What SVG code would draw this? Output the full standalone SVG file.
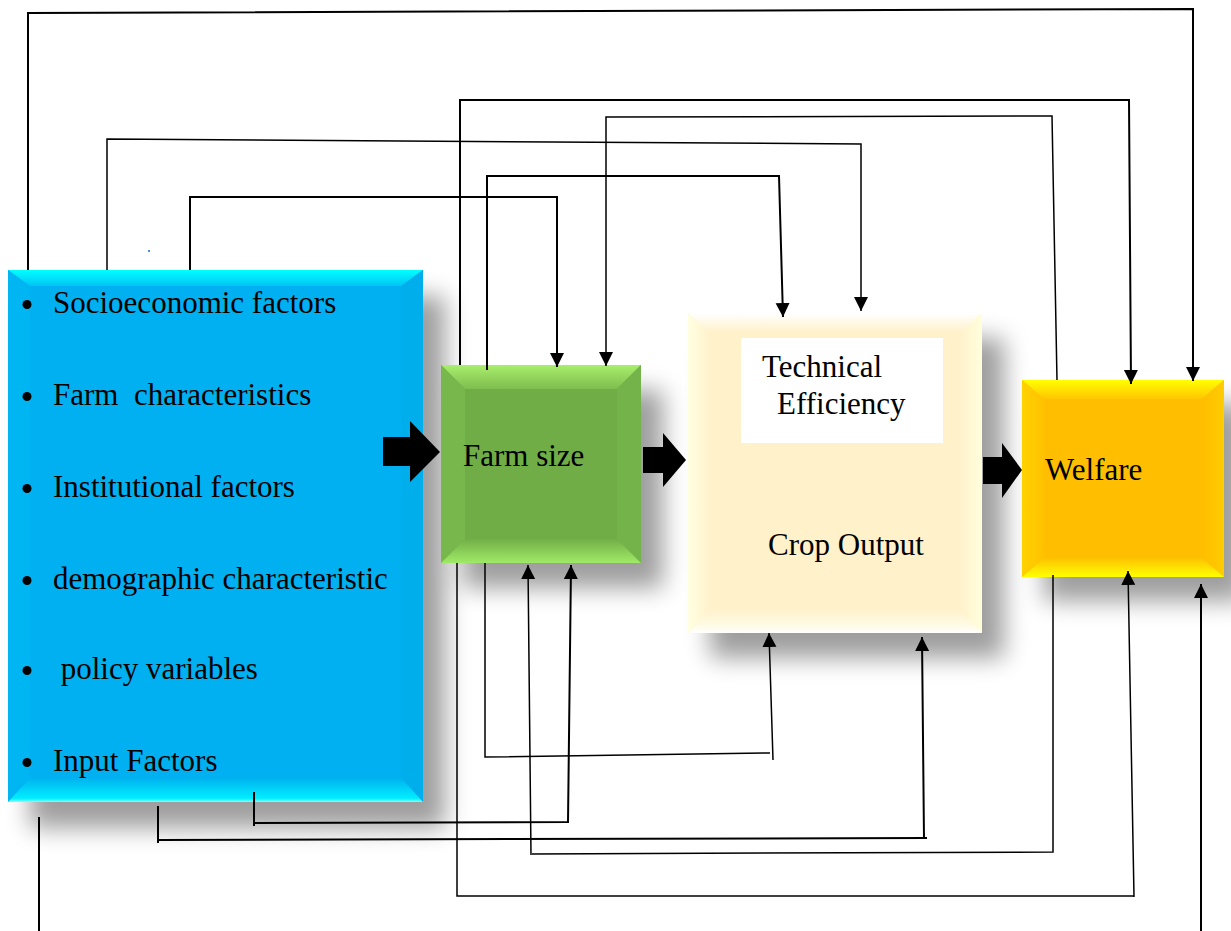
<svg xmlns="http://www.w3.org/2000/svg" width="1231" height="931" viewBox="0 0 1231 931">
<defs>
  <filter id="blur" x="-30%" y="-30%" width="160%" height="160%">
    <feGaussianBlur stdDeviation="12"/>
  </filter>
  <marker id="ah" viewBox="0 0 14 16" refX="14" refY="8" markerWidth="14" markerHeight="16" markerUnits="userSpaceOnUse" orient="auto">
    <path d="M0,1 L14,8 L0,15 z" fill="#000"/>
  </marker>
  <linearGradient id="bTop" x1="0" y1="0" x2="0" y2="1"><stop offset="0" stop-color="#00FFFF"/><stop offset="1" stop-color="#00C4F4"/></linearGradient>
  <linearGradient id="bBot" x1="0" y1="0" x2="0" y2="1"><stop offset="0" stop-color="#00B2F0"/><stop offset="0.85" stop-color="#00EEFF"/><stop offset="1" stop-color="#7FFFFF"/></linearGradient>
  <linearGradient id="gTop" x1="0" y1="0" x2="0" y2="1"><stop offset="0" stop-color="#A9EE6C"/><stop offset="1" stop-color="#7EBD4F"/></linearGradient>
  <linearGradient id="gBot" x1="0" y1="0" x2="0" y2="1"><stop offset="0" stop-color="#72AF48"/><stop offset="1" stop-color="#A0EA66"/></linearGradient>
  <linearGradient id="cTop" x1="0" y1="0" x2="0" y2="1"><stop offset="0" stop-color="#FFFFFF"/><stop offset="1" stop-color="#FFF0C6"/></linearGradient>
  <linearGradient id="cBot" x1="0" y1="0" x2="0" y2="1"><stop offset="0" stop-color="#FFF2CC"/><stop offset="0.7" stop-color="#FFFBE6"/><stop offset="1" stop-color="#FFFFFF"/></linearGradient>
  <linearGradient id="cLeft" x1="0" y1="0" x2="1" y2="0"><stop offset="0" stop-color="#FFFFE2"/><stop offset="1" stop-color="#FFF2CC"/></linearGradient>
  <linearGradient id="cRight" x1="0" y1="0" x2="1" y2="0"><stop offset="0" stop-color="#FFF2CC"/><stop offset="1" stop-color="#FFFFDC"/></linearGradient>
  <linearGradient id="yTop" x1="0" y1="0" x2="0" y2="1"><stop offset="0" stop-color="#FFFF00"/><stop offset="1" stop-color="#FFC600"/></linearGradient>
  <linearGradient id="yBot" x1="0" y1="0" x2="0" y2="1"><stop offset="0" stop-color="#FFC200"/><stop offset="1" stop-color="#FFFF00"/></linearGradient>
  <linearGradient id="yLeft" x1="0" y1="0" x2="1" y2="0"><stop offset="0" stop-color="#FFD200"/><stop offset="1" stop-color="#FFC200"/></linearGradient>
  <linearGradient id="yRight" x1="0" y1="0" x2="1" y2="0"><stop offset="0" stop-color="#FFBE00"/><stop offset="1" stop-color="#FFCC00"/></linearGradient>
</defs>
<style>
  .shadow { fill: #000; opacity: 0.38; }
  .lbl { font-family: "Liberation Serif", "Times New Roman", serif; font-size: 31px; fill: #000; white-space: pre; }
  .conn { fill: none; stroke: #000; stroke-width: 2; stroke-linejoin: miter; }
  .thin { stroke-width: 1.5; }
  .big { fill: #000; }
</style>

<rect width="1231" height="931" fill="#fff"/>

<!-- Blue factors box -->
<g id="factors">
  <rect class="shadow" x="30" y="296" width="415" height="532" filter="url(#blur)"/>
  <rect x="8" y="270" width="415" height="532" fill="#00B0F0"/>
  <polygon points="8,270 423,270 401,286 30,286" fill="url(#bTop)"/>
  <polygon points="8,270 30,286 30,778 8,802" fill="#00B6F2"/>
  <polygon points="423,270 401,286 401,778 423,802" fill="#00AEEC"/>
  <polygon points="8,802 423,802 401,778 30,778" fill="url(#bBot)"/>
  <circle cx="27" cy="304.5" r="4.5"/>
  <text class="lbl" x="53" y="313">Socioeconomic factors</text>
  <circle cx="27" cy="396.5" r="4.5"/>
  <text class="lbl" x="53" y="405">Farm  characteristics</text>
  <circle cx="27" cy="488.5" r="4.5"/>
  <text class="lbl" x="53" y="497">Institutional factors</text>
  <circle cx="27" cy="580.5" r="4.5"/>
  <text class="lbl" x="53" y="589">demographic characteristic</text>
  <circle cx="27" cy="670.5" r="4.5"/>
  <text class="lbl" x="53" y="679"> policy variables</text>
  <circle cx="27" cy="762.5" r="4.5"/>
  <text class="lbl" x="53" y="771">Input Factors</text>
</g>

<!-- Farm size box -->
<g id="farmsize">
  <rect class="shadow" x="463" y="390" width="200" height="198" filter="url(#blur)"/>
  <rect x="441" y="365" width="200" height="198" fill="#70AD47"/>
  <polygon points="441,365 641,365 617,389 465,389" fill="url(#gTop)"/>
  <polygon points="441,365 465,389 465,539 441,563" fill="#78B74C"/>
  <polygon points="641,365 617,389 617,539 641,563" fill="#74B24A"/>
  <polygon points="441,563 641,563 617,539 465,539" fill="url(#gBot)"/>
  <text class="lbl" x="463" y="466">Farm size</text>
</g>

<!-- Crop output box -->
<g id="cropoutput">
  <rect class="shadow" x="710" y="338" width="294" height="320" filter="url(#blur)"/>
  <rect x="688" y="313" width="294" height="320" fill="#FFF1C9"/>
  <polygon points="688,313 982,313 960,334 710,334" fill="url(#cTop)"/>
  <polygon points="688,313 710,334 710,609 688,633" fill="url(#cLeft)"/>
  <polygon points="982,313 960,334 960,609 982,633" fill="url(#cRight)"/>
  <polygon points="688,633 982,633 960,609 710,609" fill="url(#cBot)"/>
  <rect x="741" y="338" width="202" height="105" fill="#FFFFFF"/>
  <text class="lbl" x="762" y="377">Technical</text>
  <text class="lbl" x="777" y="414">Efficiency</text>
  <text class="lbl" x="768" y="555">Crop Output</text>
</g>

<!-- Welfare box -->
<g id="welfare">
  <rect class="shadow" x="1044" y="404" width="202" height="197" filter="url(#blur)"/>
  <rect x="1022" y="380" width="202" height="197" fill="#FFBF00"/>
  <polygon points="1022,380 1224,380 1202,399 1044,399" fill="url(#yTop)"/>
  <polygon points="1022,380 1044,399 1044,558 1022,577" fill="url(#yLeft)"/>
  <polygon points="1224,380 1202,399 1202,558 1224,577" fill="url(#yRight)"/>
  <polygon points="1022,577 1224,577 1202,558 1044,558" fill="url(#yBot)"/>
  <text class="lbl" x="1045" y="480">Welfare</text>
</g>

<!-- Block arrows -->
<g id="flow-arrows">
  <polygon class="big" points="383,437 410,437 410,421 440,452 410,482 410,466 383,466"/>
  <polygon class="big" points="643,447 663,447 663,433 686,460 663,487 663,473 643,473"/>
  <polygon class="big" points="983,457 1002,457 1002,443 1022,470 1002,498 1002,484 983,484"/>
</g>

<!-- Connectors -->
<g id="connectors">
  <path class="conn" d="M28,270 L28,13 L1193,9 L1193,381" marker-end="url(#ah)"/>
  <path class="conn thin" d="M107,270 L107,139 L861,144 L861,311" marker-end="url(#ah)"/>
  <path class="conn" d="M190,270 L190,197 L557,197 L557,367" marker-end="url(#ah)"/>
  <path class="conn" d="M460,365 L460,100 L1129,100 L1131,384" marker-end="url(#ah)"/>
  <path class="conn" d="M487,370 L487,176 L779,176 L783,317" marker-end="url(#ah)"/>
  <path class="conn thin" d="M1057,380 L1052,116 L606,117 L606,366" marker-end="url(#ah)"/>
  <path class="conn thin" d="M485,563 L485,757 L770,753 M773,760 L769,633" marker-end="url(#ah)"/>
  <path class="conn" d="M254,792 L254,826 M254,823 L568,822 M568,823 L571,565" marker-end="url(#ah)"/>
  <path class="conn" d="M158,806 L158,843 M158,840 L927,838 M924,839 L922,637" marker-end="url(#ah)"/>
  <path class="conn thin" d="M1053,575 L1053,852 L532,854 M531,855 L528,565" marker-end="url(#ah)"/>
  <path class="conn thin" d="M457,563 L457,896 L1134,896 M1134,897 L1128,571" marker-end="url(#ah)"/>
  <path class="conn" d="M39,817 L39,931"/>
  <path class="conn" d="M1201,931 L1201,584" marker-end="url(#ah)"/>
</g>

<rect x="148" y="250" width="2" height="2" fill="#4A90D9"/>
</svg>
